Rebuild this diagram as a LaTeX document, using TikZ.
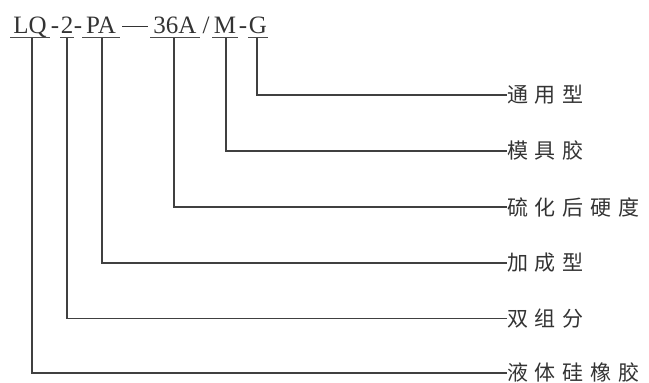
\documentclass[tikz,border=0pt]{standalone}
\usepackage{fontspec}
\setmainfont{Liberation Serif}
\newfontfamily\cjk[LetterSpace=32]{Noto Sans CJK SC}
\begin{document}
\begin{tikzpicture}[x=1pt,y=-1pt]
\useasboundingbox (0,0) rectangle (649,383);
\tikzset{
  code/.style={font=\fontsize{25}{25}\selectfont, inner sep=0pt, anchor=base, text=black!80},
  lab/.style={font=\cjk\fontsize{21}{21}\selectfont, inner sep=0pt, anchor=west, text=black!80},
  conn/.style={draw=black!75, line width=1.2pt},
  uline/.style={draw=black!70, line width=1.3pt}
}
% top code
\node[code] (lq) at (30,33) {LQ};
\node[code] (d1) at (55,33) {-};
\node[code] (n2) at (67,33) {2};
\node[code] (d2) at (78,33) {-};
\node[code] (pa) at (101,33) {PA};
\node[code] (d3) at (135,33) {\rule[0.24em]{26pt}{0.9pt}};
\node[code] (n36) at (175,33) {36A};
\node[code] (sl) at (206,33) {/};
\node[code] (m) at (225,33) {M};
\node[code] (d4) at (243,33) {-};
\node[code] (g) at (258,33) {G};
% underline end points
\coordinate (u1a) at (10,37.5);  \coordinate (u1b) at (50,37.5);
\coordinate (u2a) at (60,37.5);  \coordinate (u2b) at (74,37.5);
\coordinate (u3a) at (82,37.5);  \coordinate (u3b) at (120,37.5);
\coordinate (u4a) at (150,37.5); \coordinate (u4b) at (200,37.5);
\coordinate (u5a) at (212,37.5); \coordinate (u5b) at (238,37.5);
\coordinate (u6a) at (248,37.5); \coordinate (u6b) at (268,37.5);
\foreach \i in {1,...,6} {\draw[uline] (u\i a) -- (u\i b);}
% tick start points
\coordinate (t1) at (32,37.5);
\coordinate (t2) at (67,37.5);
\coordinate (t3) at (102,37.5);
\coordinate (t4) at (174,37.5);
\coordinate (t5) at (226,37.5);
\coordinate (t6) at (257,37.5);
% labels
\node[lab] (l6) at (507,95) {通用型};
\node[lab] (l5) at (507,151) {模具胶};
\node[lab] (l4) at (507,207) {硫化后硬度};
\node[lab] (l3) at (507,263) {加成型};
\node[lab] (l2) at (507,318.5) {双组分};
\node[lab] (l1) at (507,373) {液体硅橡胶};
% connectors
\foreach \i in {1,...,6} {\draw[conn] (t\i) |- (l\i.west);}
\end{tikzpicture}
\end{document}
